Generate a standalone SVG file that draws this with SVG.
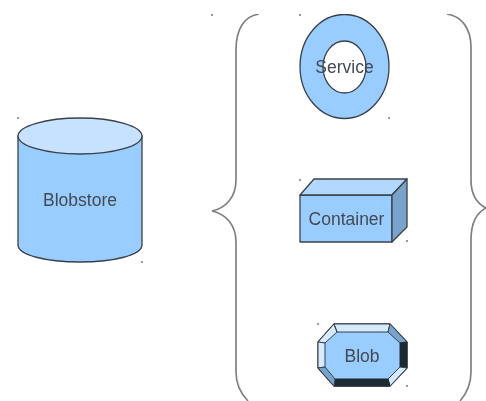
<svg xmlns="http://www.w3.org/2000/svg" width="486" height="401" viewBox="0 0 486 401">
<style>
.s{stroke:#3a4048;stroke-width:1.3;stroke-linejoin:round}
.f{fill:#99ccff}
.b{fill:none;stroke:#808080;stroke-width:1.7}
.t{font-family:"Liberation Sans",Arial,sans-serif;font-size:17.500px;fill:#444a50;text-anchor:middle}
.d{fill:#9a9a9a}
</style>
<defs><filter id="soft" x="0" y="0" width="100%" height="100%"><feGaussianBlur stdDeviation="0.6"/></filter></defs>
<rect width="486" height="401" fill="#ffffff"/>
<g filter="url(#soft)">
<g id="blobstore">
<path class="s f" d="M18 136V245C18 255 46 262 80 262C114 262 142 255 142 245V136Z"/>
<ellipse class="s" cx="80" cy="136" rx="62" ry="18" fill="#c6e2ff"/>
<text class="t" x="80" y="206">Blobstore</text>
</g>
<g id="connectors">
<path class="b" d="M259 14C245 16 236 28 236 50V180C236 197 226 208 212 211C226 214 236 225 236 242V372C236 384 240 393 248 401"/>
<path class="b" d="M447 14C461 16 471 28 471 47V180C471 193 476 203 486 208C476 213 471 225 471 240V372C471 384 467 393 460 401"/>
</g>
<g id="service">
<ellipse class="s f" cx="344.500" cy="66.500" rx="44.500" ry="52"/>
<ellipse class="s" cx="344.500" cy="67" rx="21.500" ry="26" fill="#ffffff"/>
<text class="t" x="344.500" y="73">Service</text>
</g>
<g id="container">
<path class="s f" d="M300 195H392V242H300Z"/>
<path class="s" d="M300 195L314 179H407L392 195Z" fill="#b3d8ff"/>
<path class="s" d="M392 195L407 179V227L392 242Z" fill="#7aa3cc"/>
<text class="t" x="346.500" y="225">Container</text>
</g>
<g id="blob">
<path class="s f" d="M334 324H390L407 342V368L390 386H334L318 368V342Z"/>
<path d="M334 324H390L388 332H337ZM334 324L337 332L325 343L318 342Z" fill="#d6ebff" stroke="#3a4048" stroke-width="1"/>
<path d="M318 342L325 343V367L318 368Z" fill="#d6ebff" stroke="#3a4048" stroke-width="1"/>
<path d="M390 324L407 342L400 343L388 332Z" fill="#7aa3cc" stroke="#3a4048" stroke-width="1"/>
<path d="M407 342V368L400 367V343Z" fill="#1f2a33" stroke="#1f2a33" stroke-width="1"/>
<path d="M407 368L390 386L388 379L400 367Z" fill="#d6ebff" stroke="#3a4048" stroke-width="1"/>
<path d="M390 386H334L335 379H388Z" fill="#1f2a33" stroke="#1f2a33" stroke-width="1"/>
<path d="M334 386L318 368L325 367L335 379Z" fill="#7aa3cc" stroke="#3a4048" stroke-width="1"/>
<text class="t" x="362" y="362">Blob</text>
</g>
<g id="specks">
<rect class="d" x="17" y="117" width="2" height="2"/>
<rect class="d" x="141" y="261" width="2" height="2"/>
<rect class="d" x="211" y="14" width="2" height="2"/>
<rect class="d" x="299" y="14" width="2" height="2"/>
<rect class="d" x="388" y="117" width="2" height="2"/>
<rect class="d" x="299" y="179" width="2" height="2"/>
<rect class="d" x="406" y="240" width="2" height="2"/>
<rect class="d" x="317" y="323" width="2" height="2"/>
<rect class="d" x="406" y="385" width="2" height="2"/>
</g>
</g>
</svg>
